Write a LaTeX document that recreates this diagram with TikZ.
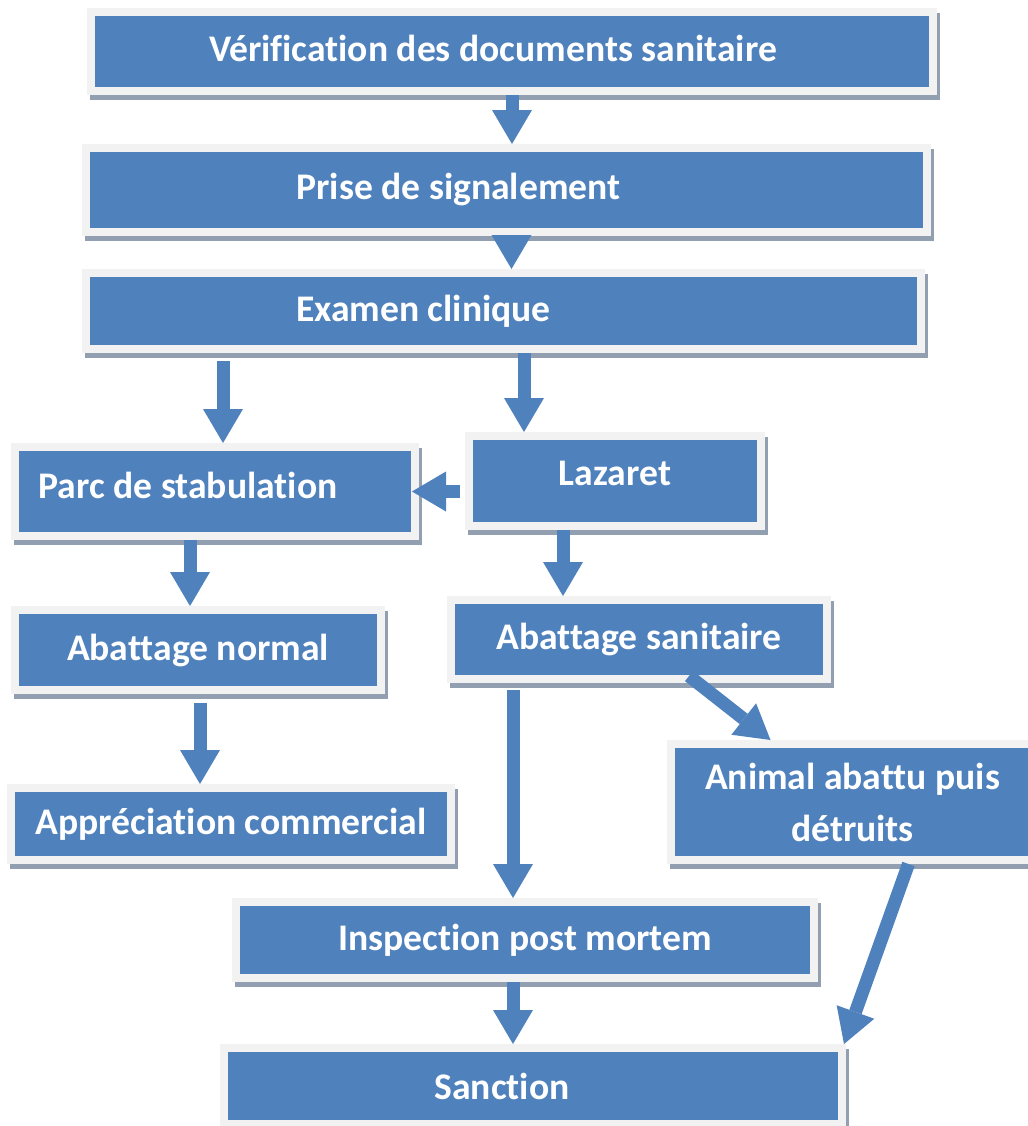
\documentclass[tikz,border=0pt]{standalone}
\usepackage{fontspec}
\setmainfont{Carlito}[Ligatures={NoCommon}]
\usetikzlibrary{arrows.meta}
\definecolor{boxblue}{HTML}{4F81BD}
\definecolor{boxrim}{HTML}{F2F2F2}
\definecolor{boxshade}{HTML}{919FB0}

\begin{document}
\begin{tikzpicture}
  [x=0.5pt, y=-0.5pt
  ,stage/.style={rectangle, fill=boxblue, draw=boxrim, line width=4pt, inner sep=0pt,
     text=white, font=\fontsize{18.8pt}{26pt}\selectfont\bfseries, align=center,
     preaction={fill=boxshade, draw=boxshade,
       transform canvas={xshift=1.5pt, yshift=-2.5pt}}}
  ,flow/.style={draw=boxblue, line width=6.5pt,
     -{Triangle[width=20pt, length=17pt, line width=0pt]}}
  ]

  \useasboundingbox (0,0) rectangle (1028,1126);

  % steps, top to bottom
  \node[stage, minimum width=421pt, minimum height=39.5pt] (verif) at (512,51.5)
    {\raisebox{3pt}{Vérification des documents sanitaire}\hspace*{19pt}};
  \node[stage, minimum width=420.5pt, minimum height=42pt] (prise) at (506.5,190)
    {\raisebox{4pt}{Prise de signalement}\hspace*{48pt}};
  \node[stage, minimum width=417.5pt, minimum height=38pt] (examen) at (503.5,311)
    {Examen clinique\hspace*{80pt}};

  % left branch
  \node[stage, minimum width=200pt, minimum height=44.5pt] (parc) at (215,491.5)
    {\raisebox{6.5pt}{Parc de stabulation}\hspace*{27pt}};
  \node[stage, minimum width=183pt, minimum height=40pt] (normal) at (198,650)
    {Abattage normal};
  \node[stage, minimum width=220pt, minimum height=36pt] (appr) at (231,824)
    {Appréciation commercial};

  % right branch
  \node[stage, minimum width=146pt, minimum height=45pt] (lazaret) at (615,481)
    {\raisebox{8pt}{Lazaret}};
  \node[stage, minimum width=188pt, minimum height=39.5pt] (sanitaire) at (639,639.5)
    {Abattage sanitaire};
  \node[stage, minimum width=181.5pt, minimum height=58pt] (animal) at (852.5,802)
    {Animal abattu puis\\détruits};

  % bottom
  \node[stage, minimum width=289pt, minimum height=38pt] (inspection) at (525,940)
    {Inspection post mortem};
  \node[stage, minimum width=309pt, minimum height=38pt] (sanction) at (533,1086)
    {Sanction\hspace*{31pt}};

  % arrows
  \draw[flow] (verif.south) -- (verif.south |- prise.north);
  \draw[flow] ([xshift=2.5pt]prise.south) -- ([xshift=2.5pt]prise.south |- examen.north);
  \draw[flow, shorten <=4pt] (examen.south -| 223,0) -- (parc.north -| 223,0);
  \draw[flow] (examen.south -| 524,0) -- (lazaret.north -| 524,0);
  \draw[flow, shorten <=2.5pt, shorten >=-3.5pt] (lazaret.west |- parc.east) -- (parc.east);
  \draw[flow] (parc.south -| 190,0) -- (normal.north -| 190,0);
  \draw[flow] (lazaret.south -| 563,0) -- (sanitaire.north -| 563,0);
  \draw[flow, shorten <=4.5pt] (normal.south -| 200,0) -- (appr.north -| 200,0);
  \draw[flow, shorten <=3.5pt] (sanitaire.south -| 513,0) -- (inspection.north -| 513,0);
  \draw[flow] ([xshift=25pt, yshift=3.5pt]sanitaire.south) -- ([xshift=-41pt]animal.north);
  \draw[flow] ([xshift=28pt]animal.south) -- ([xshift=-1pt]sanction.north east);
  \draw[flow] (inspection.south -| 513,0) -- (sanction.north -| 513,0);

\end{tikzpicture}
\end{document}
